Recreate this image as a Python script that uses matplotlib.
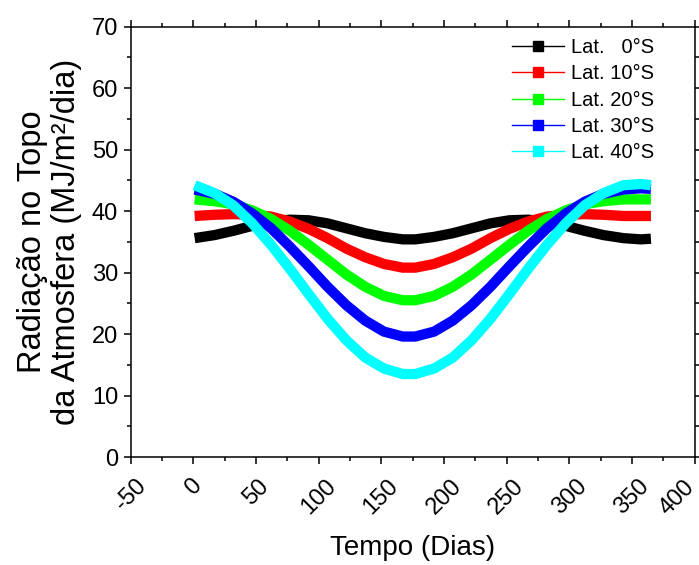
import matplotlib
matplotlib.use("Agg")
import matplotlib.pyplot as plt
import matplotlib.transforms as mtransforms
from matplotlib.lines import Line2D
from matplotlib.ticker import MultipleLocator

plt.rcParams['font.family'] = ['Liberation Sans', 'DejaVu Sans']

# dia do ano
days = [1, 17, 32, 47, 62, 77, 92, 107, 122, 137, 152, 167, 172, 177,
        192, 207, 222, 237, 252, 267, 282, 297, 312, 327, 343, 357, 365]

# radiacao no topo da atmosfera (MJ/m2/dia)
lat_0 = [35.6, 36.1, 36.8, 37.6, 38.3, 38.6, 38.5, 38.0, 37.2, 36.4, 35.8, 35.4, 35.4, 35.4,
         35.8, 36.4, 37.2, 38.0, 38.5, 38.6, 38.3, 37.6, 36.8, 36.1, 35.6, 35.4, 35.5]
lat_10 = [39.2, 39.4, 39.5, 39.4, 39.1, 38.3, 37.1, 35.6, 33.9, 32.5, 31.4, 30.8, 30.8, 30.8,
          31.4, 32.5, 33.9, 35.6, 37.1, 38.3, 39.1, 39.4, 39.5, 39.4, 39.2, 39.2, 39.2]
lat_20 = [41.9, 41.6, 41.1, 40.1, 38.7, 36.8, 34.5, 32.1, 29.7, 27.7, 26.2, 25.5, 25.5, 25.5,
          26.2, 27.7, 29.7, 32.1, 34.5, 36.8, 38.7, 40.1, 41.1, 41.6, 41.9, 41.9, 41.9]
lat_30 = [43.5, 42.8, 41.5, 39.6, 37.2, 34.2, 31.0, 27.7, 24.7, 22.2, 20.4, 19.6, 19.6, 19.6,
          20.4, 22.2, 24.7, 27.7, 31.0, 34.2, 37.2, 39.6, 41.5, 42.8, 43.5, 43.7, 43.6]
lat_40 = [44.2, 42.9, 40.9, 38.0, 34.5, 30.6, 26.5, 22.5, 19.0, 16.2, 14.4, 13.5, 13.5, 13.5,
          14.4, 16.2, 19.0, 22.5, 26.5, 30.6, 34.5, 38.0, 40.9, 42.9, 44.2, 44.4, 44.2]

labels = ["Lat.   0°S", "Lat. 10°S", "Lat. 20°S", "Lat. 30°S", "Lat. 40°S"]
colors = ["#000000", "#ff0000", "#00ff00", "#0000ff", "#00ffff"]
series = [lat_0, lat_10, lat_20, lat_30, lat_40]

xticks = [-50, 0, 50, 100, 150, 200, 250, 300, 350, 400]
xticklabels = ["-50", "0", "50", "100", "150", "200", "250", "300", "350", "400"]

fig = plt.figure(figsize=(6.99, 5.65), dpi=100)
ax = fig.add_axes([0.187, 0.191, 0.807, 0.762])

for vals, c in zip(series, colors):
    ax.plot(days, vals, color=c, lw=7.4, solid_capstyle="butt", solid_joinstyle="round")

ax.set_xlim(-50, 400)
ax.set_ylim(0, 70)
ax.set_xticks(xticks, labels=xticklabels[:-1] + [""])
ax.xaxis.set_minor_locator(MultipleLocator(25))
ax.yaxis.set_major_locator(MultipleLocator(10))
ax.yaxis.set_minor_locator(MultipleLocator(5))

for s in ax.spines.values():
    s.set_linewidth(1.1)
ax.tick_params(which="both", direction="out", width=1.1, top=True, right=True,
               labeltop=False, labelright=False)
ax.tick_params(which="major", length=5)
ax.tick_params(which="minor", length=3)
ax.tick_params(axis="y", labelsize=17, pad=4)
ax.tick_params(axis="x", labelsize=17, pad=8)
for lbl in ax.get_xticklabels():
    lbl.set_rotation(45)
    lbl.set_ha("center")
    lbl.set_va("top")

# o ultimo rotulo fica encostado na borda direita
shift = mtransforms.ScaledTranslation(-13 / 72, -14 / 72, fig.dpi_scale_trans)
ax.text(xticks[-1], 0, xticklabels[-1], transform=ax.get_xaxis_transform() + shift,
        rotation=45, ha="center", va="top", fontsize=17)

ax.set_xlabel("Tempo (Dias)", fontsize=20, labelpad=12)
ax.set_ylabel("Radiação no Topo\nda Atmosfera (MJ/m²/dia)", fontsize=23.5, labelpad=7,
              linespacing=1.12)

handles = [Line2D([], [], color=c, lw=1, marker="s", ms=7.5) for c in colors]
ax.legend(handles, labels, loc="upper left", bbox_to_anchor=(0.676, 0.973),
          frameon=False, fontsize=14.5, handlelength=2.6, handletextpad=0.35,
          labelspacing=0.36, borderpad=0, borderaxespad=0)

fig.savefig("out.png", dpi=100)
